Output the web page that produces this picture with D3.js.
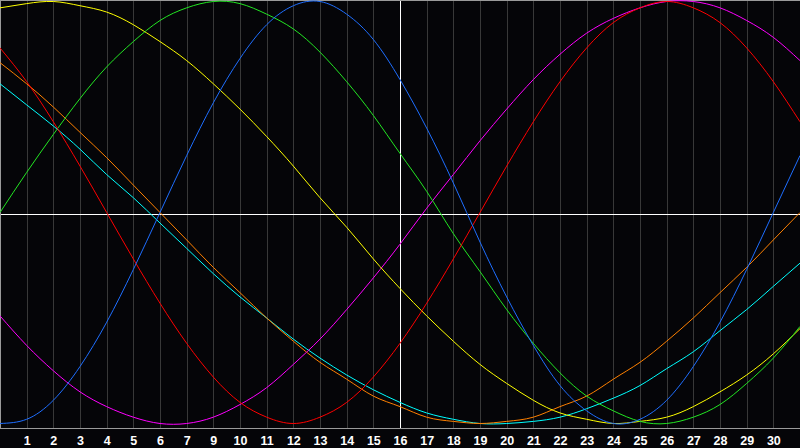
<!DOCTYPE html>
<html>
<head>
<meta charset="utf-8">
<script src="https://cdn.jsdelivr.net/npm/d3@7"></script>
<style>
html,body{margin:0;padding:0;background:#050508;overflow:hidden;}
svg{display:block;}
</style>
</head>
<body>
<svg id="chart" width="800" height="448"></svg>
<script>
// Day index 0..30 along the x axis
const days = d3.range(0, 31);

// Tick positions (day index) and their labels (note: no "8" in the reference)
const tickDays = d3.range(1, 30);
const tickLabels = ["1","2","3","4","5","6","7","9","10","11","12","13","14","15","16","17","18","19","20","21","22","23","24","25","26","27","28","29","30"];

// Series values (percent, -100..100), one per day
const blueValues    = [-100,-98,-89,-73,-52,-27,0,27,52,73,89,98,100,94,82,63,40,14,-14,-40,-63,-82,-94,-100,-98,-89,-73,-52,-27,0,27];
const redValues     = [78,62,43,22,0,-22,-43,-62,-78,-90,-97,-100,-97,-90,-78,-62,-43,-22,0,22,43,62,78,90,97,100,97,90,78,62,43];
const greenValues   = [0,19,37,54,69,81,91,97,100,99,94,87,76,62,46,28,10,-10,-28,-46,-62,-76,-87,-94,-99,-100,-97,-91,-81,-69,-54];
const magentaValues = [-49,-63,-75,-85,-92,-97,-100,-100,-97,-91,-83,-72,-60,-46,-31,-15,2,18,34,49,63,75,85,92,97,100,100,97,91,83,72];
const yellowValues  = [97,99,100,98,95,89,81,72,61,49,36,22,7,-7,-22,-36,-49,-61,-72,-81,-89,-95,-98,-100,-99,-97,-92,-85,-77,-67,-55];
const orangeValues  = [71,61,50,38,26,13,0,-13,-26,-38,-50,-61,-71,-79,-87,-92,-97,-99,-100,-99,-97,-92,-87,-79,-71,-61,-50,-38,-26,-13,0];
const cyanValues    = [61,51,41,30,18,7,-5,-17,-29,-40,-50,-60,-69,-77,-84,-90,-95,-98,-100,-100,-99,-97,-93,-88,-82,-74,-66,-56,-46,-35,-24];

const seriesNames  = ["cyan","orange","magenta","yellow","green","red","blue"];
const seriesData   = [cyanValues, orangeValues, magentaValues, yellowValues, greenValues, redValues, blueValues];
const seriesColors = ["#00ffff","#ff8000","#ff00ff","#ffff00","#22e622","#ff0000","#1e6eff"];

const svg = d3.select("#chart");
const W = 800, plotBottom = 428.5;

const x = d3.scaleLinear().domain([0, 30]).range([0, W]);
const y = d3.scaleLinear().domain([-100, 100]).range([423.5, 1.5]);

// background
svg.append("rect").attr("x",0).attr("y",0).attr("width",800).attr("height",448).attr("fill","#050508");

// vertical grid lines
svg.append("g").selectAll("line").data(tickDays).join("line")
  .attr("x1", d => Math.round(x(d)) + 0.5).attr("x2", d => Math.round(x(d)) + 0.5)
  .attr("y1", 0).attr("y2", plotBottom)
  .attr("stroke", "#383838").attr("stroke-width", 1)
  .attr("shape-rendering","crispEdges");

// center crosshair
svg.append("line").attr("x1", 0).attr("x2", W).attr("y1", 214.5).attr("y2", 214.5)
  .attr("stroke", "#ffffff").attr("stroke-width", 1).attr("shape-rendering","crispEdges");
svg.append("line").attr("x1", Math.round(x(15)) + 0.5).attr("x2", Math.round(x(15)) + 0.5)
  .attr("y1", 0).attr("y2", plotBottom)
  .attr("stroke", "#ffffff").attr("stroke-width", 1).attr("shape-rendering","crispEdges");

// frame
svg.append("line").attr("x1",0.5).attr("x2",0.5).attr("y1",0).attr("y2",plotBottom)
  .attr("stroke","#9a9a9a").attr("shape-rendering","crispEdges");
svg.append("line").attr("x1",0).attr("x2",W).attr("y1",0.5).attr("y2",0.5)
  .attr("stroke","#9a9a9a").attr("shape-rendering","crispEdges");

// curves
const line = d3.line()
  .x((d, i) => x(days[i]))
  .y(d => y(d))
  .curve(d3.curveNatural);

svg.append("g").selectAll("path").data(seriesData).join("path")
  .attr("d", d => line(d))
  .attr("fill", "none")
  .attr("stroke", (d, i) => seriesColors[i])
  .attr("stroke-width", 1)
  .attr("class", (d, i) => "series-" + seriesNames[i]);

// bottom axis
const axis = d3.axisBottom(x)
  .tickValues(tickDays)
  .tickFormat((d, i) => tickLabels[i])
  .tickSize(0)
  .tickPadding(8);

const gAxis = svg.append("g").attr("transform", `translate(0,${plotBottom})`).call(axis);
gAxis.select(".domain").attr("stroke", "#9a9a9a").attr("d", `M0,0H${W}`).attr("shape-rendering","crispEdges");
gAxis.selectAll("text")
  .attr("fill", "#ffffff")
  .style("font-family", "'Liberation Sans', Arial, sans-serif")
  .style("font-weight", "bold")
  .style("font-size", "12.5px");
</script>
</body>
</html>
